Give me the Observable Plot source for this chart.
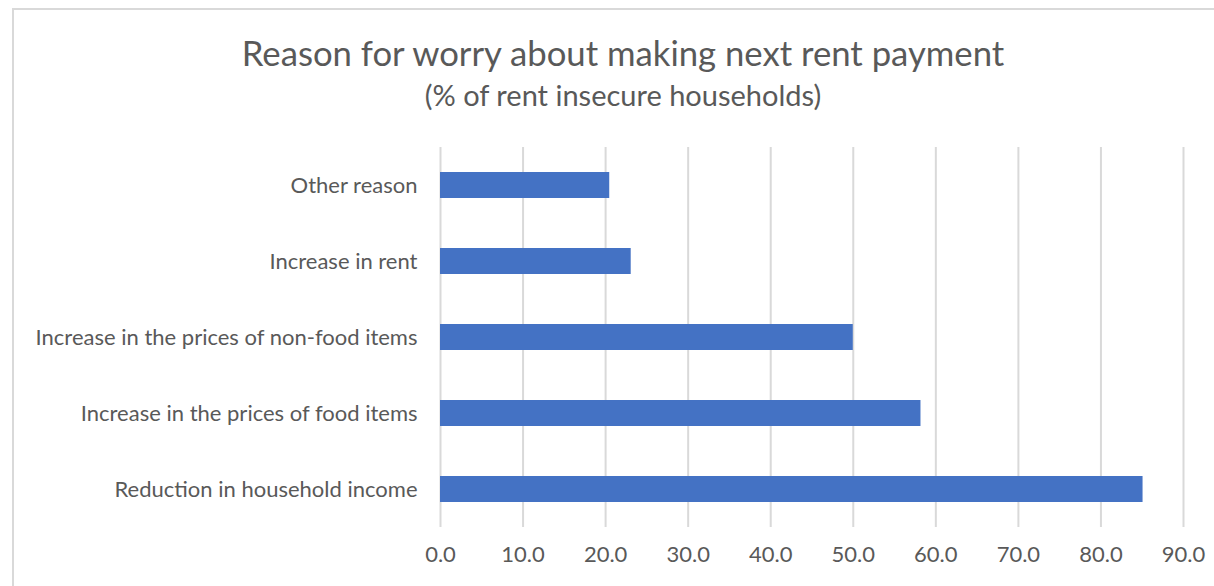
<!DOCTYPE html>
<html>
<head>
<meta charset="utf-8">
<script src="https://cdn.jsdelivr.net/npm/d3@7"></script>
<script src="https://cdn.jsdelivr.net/npm/@observablehq/plot@0.6"></script>
<style>
  html, body { margin: 0; padding: 0; background: #fff; overflow: hidden; width: 1214px; height: 586px; }
  #frame { position: absolute; left: 12px; top: 8px; width: 1400px; height: 800px; border: 2px solid #d9d9d9; box-sizing: border-box; }
  #title { position: absolute; left: 0; width: 1246px; top: 32px; text-align: center; font-family: Lato, sans-serif; font-size: 34.7px; color: #595959; white-space: nowrap; }
  #subtitle { position: absolute; left: 0; width: 1246px; top: 77px; text-align: center; font-family: Lato, sans-serif; font-size: 29px; color: #595959; white-space: nowrap; }
  #chart { position: absolute; left: 0; top: 120px; }
</style>
</head>
<body>
<div id="frame"></div>
<div id="title">Reason for worry about making next rent payment</div>
<div id="subtitle">(% of rent insecure households)</div>
<div id="chart"></div>
<script>
const categories = [
  "Other reason",
  "Increase in rent",
  "Increase in the prices of non-food items",
  "Increase in the prices of food items",
  "Reduction in household income"
];
const values = [20.5, 23.1, 50.0, 58.2, 85.1];
const xTicks = [0, 10, 20, 30, 40, 50, 60, 70, 80, 90];

const data = categories.map((c, i) => ({category: c, value: values[i]}));

const plot = Plot.plot({
  width: 1214,
  height: 466,
  marginTop: 27,
  marginBottom: 59,
  marginLeft: 440,
  marginRight: 31,
  style: {fontFamily: "Lato, sans-serif", fontSize: "22px", color: "#595959", background: "transparent"},
  x: {domain: [0, 90], ticks: xTicks, tickFormat: d => d.toFixed(1), label: null},
  y: {domain: categories, paddingInner: 0.66, paddingOuter: 0.33, label: null},
  marks: [
    Plot.ruleX(xTicks, {stroke: "#d9d9d9", strokeWidth: 2, strokeOpacity: 1}),
    Plot.barX(data, {y: "category", x: "value", fill: "#4472C4"}),
    Plot.axisX({ticks: xTicks, tickFormat: d => d.toFixed(1), tickSize: 0, tickPadding: 19, fontSize: 22, fill: "#595959", label: null}),
    Plot.axisY({tickSize: 0, tickPadding: 23, fontSize: 22, fill: "#595959", label: null})
  ]
});
document.getElementById("chart").appendChild(plot);
</script>
</body>
</html>
